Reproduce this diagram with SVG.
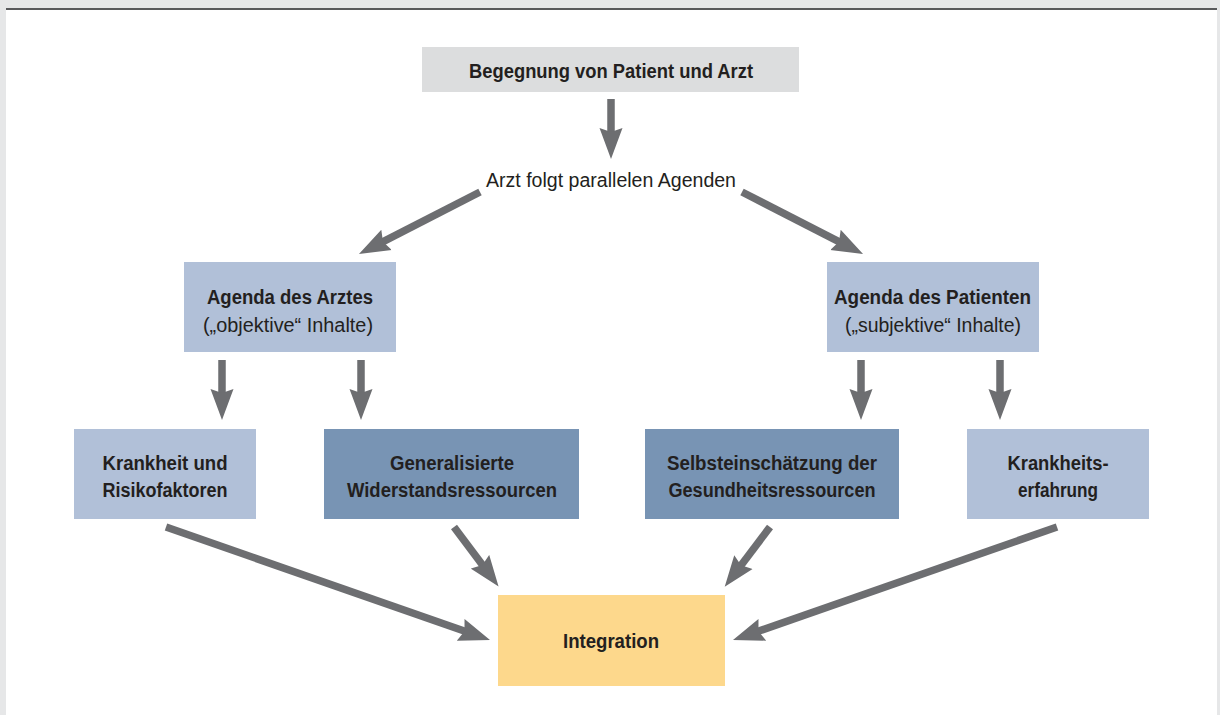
<svg xmlns="http://www.w3.org/2000/svg" width="1220" height="715" viewBox="0 0 1220 715">
<style>
.t{font-family:"Liberation Sans",Arial,sans-serif;font-size:20px;fill:#231f20;text-anchor:middle}
.b{font-weight:bold}
.light{fill:#b1c0d8}
.dark{fill:#7894b4}
.conn line{stroke:#6d6e71;stroke-width:7.5;marker-end:url(#ah)}
</style>
<defs>
<marker id="ah" markerUnits="userSpaceOnUse" viewBox="0 -12 32 24" markerWidth="32" markerHeight="24" refX="6" refY="0" orient="auto">
<path d="M0,-11.5 L31,0 L0,11.5 L4,0 Z" fill="#6d6e71"/>
</marker>
</defs>
<rect x="0" y="0" width="1220" height="715" fill="#e6e7e8"/>
<rect x="6" y="9" width="1211" height="706" fill="#ffffff"/>
<rect x="6" y="8" width="1211" height="2" fill="#58595b"/>

<g id="n-begegnung">
<rect x="422" y="47" width="377" height="45" fill="#dcddde"/>
<text class="t b" x="611" y="78" textLength="284" lengthAdjust="spacingAndGlyphs">Begegnung von Patient und Arzt</text>
</g>
<g id="n-parallel">
<text class="t" x="611" y="187" textLength="250" lengthAdjust="spacingAndGlyphs">Arzt folgt parallelen Agenden</text>
</g>
<g id="n-agenda-arzt">
<rect class="light" x="184" y="262" width="212" height="90"/>
<text class="t b" x="290" y="304" textLength="166" lengthAdjust="spacingAndGlyphs">Agenda des Arztes</text>
<text class="t" x="288" y="332" textLength="170" lengthAdjust="spacingAndGlyphs">(„objektive“ Inhalte)</text>
</g>
<g id="n-agenda-patient">
<rect class="light" x="827" y="262" width="212" height="90"/>
<text class="t b" x="932.5" y="304" textLength="197" lengthAdjust="spacingAndGlyphs">Agenda des Patienten</text>
<text class="t" x="933" y="332" textLength="176" lengthAdjust="spacingAndGlyphs">(„subjektive“ Inhalte)</text>
</g>
<g id="n-krankheit">
<rect class="light" x="74" y="429" width="182" height="90"/>
<text class="t b" x="165" y="470" textLength="125" lengthAdjust="spacingAndGlyphs">Krankheit und</text>
<text class="t b" x="165" y="497" textLength="125" lengthAdjust="spacingAndGlyphs">Risikofaktoren</text>
</g>
<g id="n-generalisiert">
<rect class="dark" x="324" y="429" width="255" height="90"/>
<text class="t b" x="452" y="470" textLength="124" lengthAdjust="spacingAndGlyphs">Generalisierte</text>
<text class="t b" x="452" y="497" textLength="210" lengthAdjust="spacingAndGlyphs">Widerstandsressourcen</text>
</g>
<g id="n-selbst">
<rect class="dark" x="645" y="429" width="254" height="90"/>
<text class="t b" x="772" y="470" textLength="210" lengthAdjust="spacingAndGlyphs">Selbsteinschätzung der</text>
<text class="t b" x="772" y="497" textLength="207" lengthAdjust="spacingAndGlyphs">Gesundheitsressourcen</text>
</g>
<g id="n-erfahrung">
<rect class="light" x="967" y="429" width="182" height="90"/>
<text class="t b" x="1058" y="470" textLength="101" lengthAdjust="spacingAndGlyphs">Krankheits-</text>
<text class="t b" x="1058" y="497" textLength="80" lengthAdjust="spacingAndGlyphs">erfahrung</text>
</g>
<g id="n-integration">
<rect x="498" y="595" width="227" height="91" fill="#fdd88c"/>
<text class="t b" x="611" y="648" textLength="96" lengthAdjust="spacingAndGlyphs">Integration</text>
</g>

<g id="connectors" class="conn">
<line x1="611" y1="99" x2="611" y2="134"/>
<line x1="480" y1="192" x2="381.2" y2="242.6"/>
<line x1="742" y1="192" x2="840.8" y2="242.6"/>
<line x1="222" y1="360" x2="222" y2="395"/>
<line x1="361" y1="360" x2="361" y2="395"/>
<line x1="861" y1="360" x2="861" y2="395"/>
<line x1="1000" y1="360" x2="1000" y2="395"/>
<line x1="166" y1="527" x2="466.4" y2="631.8"/>
<line x1="454" y1="527" x2="483.6" y2="566.6"/>
<line x1="770" y1="527" x2="739.8" y2="566.9"/>
<line x1="1057" y1="527" x2="756.6" y2="631.8"/>
</g>
</svg>
